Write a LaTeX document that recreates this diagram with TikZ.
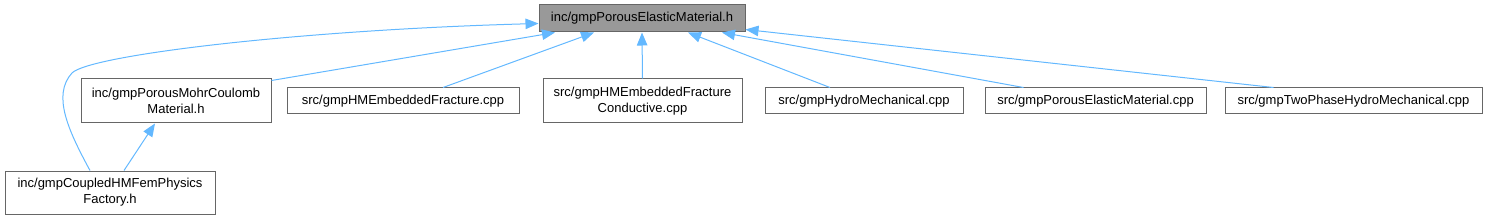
\documentclass[tikz,border=0pt]{standalone}
\usepackage{fontspec}
\setmainfont{Liberation Sans}
\usetikzlibrary{arrows.meta}
\definecolor{edgeblue}{HTML}{63B8FF}
\definecolor{boxline}{HTML}{666666}
\definecolor{rootfill}{HTML}{999999}
\tikzset{
  file/.style={draw=boxline, line width=1pt, fill=white, inner sep=0pt, align=center,
    font=\fontsize{13}{16}\selectfont, text=black},
  rootbox/.style={file, fill=rootfill},
  edge/.style={draw=edgeblue, line width=1pt, -{Triangle[length=13pt,width=10.5pt]}}
}
\begin{document}
\begin{tikzpicture}[x=1pt,y=-1pt]
\useasboundingbox (0,0) rectangle (1491,219);
\node[rootbox, minimum width=206pt, minimum height=27pt] (root) at (642,18.5) {inc/gmpPorousElasticMaterial.h};
\node[file, minimum width=190pt, minimum height=44pt] (mohr) at (176,101) {inc/gmpPorousMohrCoulomb\\Material.h};
\node[file, minimum width=232pt, minimum height=26pt] (hmef) at (403,101) {src/gmpHMEmbeddedFracture.cpp};
\node[file, minimum width=199pt, minimum height=44pt] (cond) at (642.5,101) {src/gmpHMEmbeddedFracture\\Conductive.cpp};
\node[file, minimum width=198pt, minimum height=26pt] (hydro) at (864,101) {src/gmpHydroMechanical.cpp};
\node[file, minimum width=221pt, minimum height=26pt] (pecpp) at (1095.5,101) {src/gmpPorousElasticMaterial.cpp};
\node[file, minimum width=257pt, minimum height=26pt] (two) at (1353.5,101) {src/gmpTwoPhaseHydroMechanical.cpp};
\node[file, minimum width=210pt, minimum height=43pt] (coupled) at (110,192.5) {inc/gmpCoupledHMFemPhysics\\Factory.h};

\coordinate (bend) at (72,73);
\draw[edge] ([xshift=-20pt]coupled.north) .. controls (68,130) and (52,95) .. (bend)
  .. controls (90,55) and (300,30) .. ([yshift=-5pt]root.west);
\draw[edge] ([yshift=-2pt]mohr.north east) -- ([xshift=-87pt]root.south);
\draw[edge] ([xshift=40pt]hmef.north) -- ([xshift=-48pt]root.south);
\draw[edge] (cond.north) -- (root.south);
\draw[edge] ([xshift=-34pt]hydro.north) -- ([xshift=46pt]root.south);
\draw[edge] ([xshift=-72pt]pecpp.north) -- ([xshift=80pt]root.south);
\draw[edge] ([xshift=-80pt]two.north) -- ([yshift=-11pt]root.east);
\draw[edge] ([xshift=14pt]coupled.north) -- ([xshift=-21pt]mohr.south);
\end{tikzpicture}
\end{document}
